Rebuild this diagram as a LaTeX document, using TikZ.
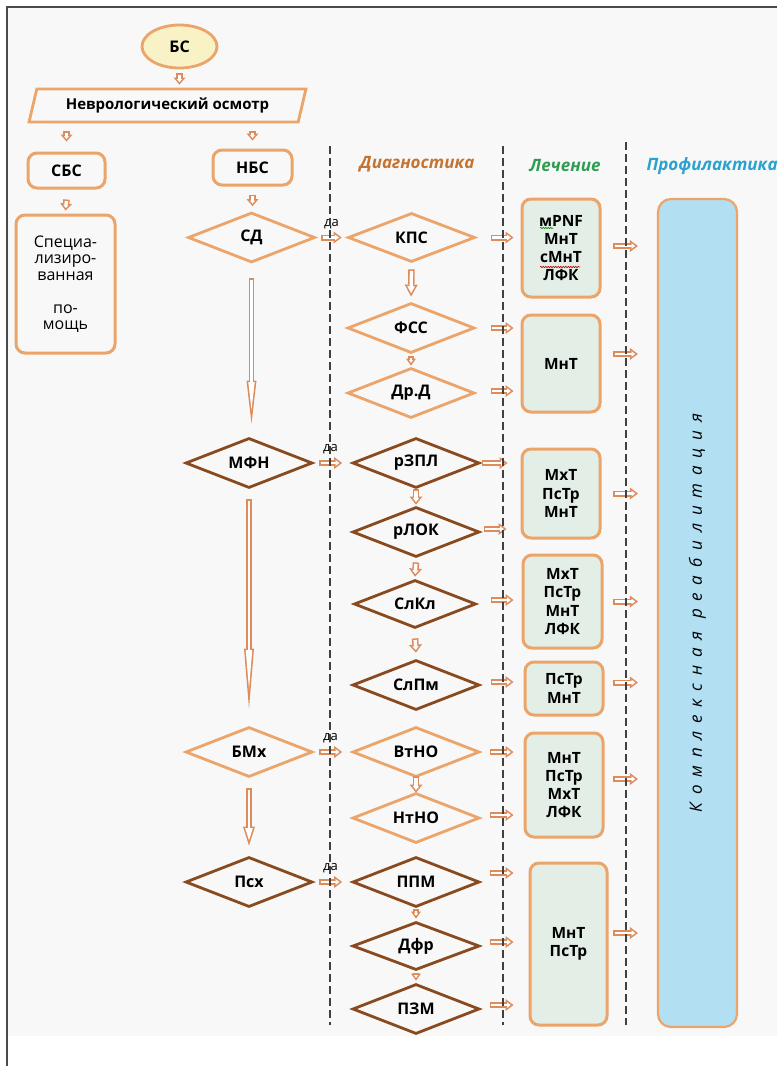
\documentclass[tikz,border=0pt]{standalone}
\usepackage{fontspec}
\setmainfont{Open Sans}
\usetikzlibrary{shapes.geometric,arrows.meta,calc,decorations.pathmorphing}

\definecolor{lor}{HTML}{EBA46A}
\definecolor{dbr}{HTML}{8A4A1F}
\definecolor{arrc}{HTML}{DD8C5C}
\definecolor{bxfill}{HTML}{E3EFE6}
\definecolor{barfill}{HTML}{B2DFF2}
\definecolor{bsfill}{HTML}{F8F2C6}
\definecolor{bgc}{HTML}{F8F8F8}
\definecolor{framec}{HTML}{4A4A4A}
\definecolor{diagc}{HTML}{C47330}
\definecolor{lechc}{HTML}{2F9C52}
\definecolor{profc}{HTML}{2AA2CF}

\def\holb{1.6}
\tikzset{
  dia/.style={diamond, aspect=2.5, draw=lor, line width=2.8pt, minimum width=127pt, minimum height=50pt, inner sep=0pt, font=\fontsize{16}{18}\selectfont\bfseries},
  ddia/.style={dia, draw=dbr},
  rbox/.style={rectangle, rounded corners=9pt, draw=lor, line width=3pt, inner sep=0pt, align=center, font=\fontsize{16}{18}\selectfont\bfseries},
  tbox/.style={rbox, fill=bxfill, font=\fontsize{15.5}{18.3}\selectfont\bfseries},
  % hollow block arrow: head length, head width, shaft width
  hol/.code n args={3}{%
    \pgfmathsetmacro\hols{\holb*sqrt((#1)^2+(#2/2)^2)/(#2/2)}%
    \pgfmathsetmacro\holl{#1-\hols-\holb}%
    \pgfmathsetmacro\holw{#2*\holl/#1}%
    \pgfmathsetmacro\holi{#3-2*\holb}%
    \tikzset{draw=arrc, line width=#3pt, -{Triangle[length=#1pt, width=#2pt, line width=0pt]},
      postaction={draw=white, line width=\holi pt, shorten <=\holb pt, shorten >=\hols pt,
        -{Triangle[length=\holl pt, width=\holw pt, line width=0pt]}}}},
  holv/.style={hol={7}{12}{6.5}},
  holh/.style={hol={8}{12}{6}},
  holt/.style={hol={7}{10}{5.5}},
  sepline/.style={draw=black!75, line width=1.4pt, dash pattern=on 8pt off 4pt},
  head/.style={font=\fontsize{17}{20}\selectfont\bfseries\itshape},
  yes/.style={above=6pt, inner sep=0pt, font=\fontsize{13}{14}\selectfont},
}

\begin{document}
\begin{tikzpicture}[x=1pt,y=-1pt]
\useasboundingbox (0,0) rectangle (777,1066);
\fill[bgc] (7,7) rectangle (777,1036);
\draw[framec, line width=1.3pt] (7,1066) -- (7,7) -- (777,7);

% headings
\node[head, text=diagc] at (417,164) (diag) {Диагностика};
\node[head, text=lechc] at (565,166) (lech) {Лечение};
\node[head, text=profc, anchor=west] at (643,166) (prof) {Профилактика};

% left part
\node[ellipse, draw=lor, line width=2.8pt, fill=bsfill, minimum width=75pt, minimum height=43pt, inner sep=0pt, font=\fontsize{16}{18}\selectfont\bfseries] at (179.5,46.5) (bs) {БС};
\node[trapezium, trapezium left angle=68.5, trapezium right angle=111.5, trapezium stretches=true, draw=lor, line width=2.8pt, minimum width=277pt, minimum height=33pt, inner sep=0pt, font=\fontsize{15}{18}\selectfont\bfseries] at (167.5,105.5) (nevr) {Неврологический осмотр};
\node[rbox, minimum width=77pt, minimum height=35pt] at (66.5,170.5) (sbs) {СБС};
\node[rbox, minimum width=79pt, minimum height=35pt] at (252.5,167.5) (nbs) {НБС};
\node[rbox, minimum width=99pt, minimum height=138pt, font=\fontsize{16}{16.5}\selectfont] at (65.5,284) (spec) {Специа-\\лизиро-\\ванная\\[16.5pt]по-\\мощь};

\node[dia] at (251.5,237.5) (sd) {СД};
\node[ddia] at (249,463) (mfn) {МФН};
\node[dia] at (249,752) (bmx) {БМх};
\node[ddia] at (249,882) (psx) {Псх};

% diagnostics
\node[dia, minimum height=49pt] at (411.5,237.5) (kps) {КПС};
\node[dia] at (411,328) (fss) {ФСС};
\node[dia] at (411,393) (drd) {Др.Д};
\node[ddia] at (416,463) (rzpl) {рЗПЛ};
\node[ddia] at (416,532) (rlok) {рЛОК};
\node[ddia, minimum width=122pt, minimum height=48pt] at (415,604) (slkl) {СлКл};
\node[ddia] at (416,685) (slpm) {СлПм};
\node[dia] at (416,752) (vtno) {ВтНО};
\node[dia] at (416,818) (ntno) {НтНО};
\node[ddia] at (416,882) (ppm) {ППМ};
\node[ddia, minimum height=48pt] at (416,946) (dfr) {Дфр};
\node[ddia] at (416,1009) (pzm) {ПЗМ};

% treatment
\node[tbox, minimum width=78pt, minimum height=98pt] at (561,248) (t1) {мPNF\\МнТ\\сМнТ\\ЛФК};
\node[tbox, minimum width=78pt, minimum height=97pt] at (561,363.5) (t2) {МнТ};
\node[tbox, minimum width=78pt, minimum height=89pt] at (561,493.5) (t3) {МхТ\\ПсТр\\МнТ};
\node[tbox, minimum width=79pt, minimum height=93pt] at (562.5,601.5) (t4) {МхТ\\ПсТр\\МнТ\\ЛФК};
\node[tbox, minimum width=78pt, minimum height=53pt] at (564,688.5) (t5) {ПсТр\\МнТ};
\node[tbox, minimum width=78pt, minimum height=104pt] at (564,785) (t6) {МнТ\\ПсТр\\МхТ\\ЛФК};
\node[tbox, minimum width=77pt, minimum height=162pt] at (568.5,944) (t7) {МнТ\\ПсТр};

% prevention
\node[rbox, rounded corners=13pt, line width=2.2pt, fill=barfill, minimum width=79pt, minimum height=828pt] at (697.5,613) (bar) {\rotatebox{90}{\fontsize{17}{18}\selectfont\mdseries\itshape\addfontfeature{LetterSpace=46}Комплексная реабилитация}};

% arrows, left part
\draw[holv] ($(bs.south)+(0,4)$) -- ($(bs.south |- nevr.north)+(0,-3)$);
\draw[holv] ($(sbs.north |- nevr.south)+(0,8)$) -- ($(sbs.north)+(0,-10)$);
\draw[holv] ($(nbs.north |- nevr.south)+(0,8)$) -- ($(nbs.north)+(0,-8)$);
\draw[holv] ($(sbs.south)+(0,10)$) -- ($(spec.north)+(0,-3)$);
\draw[holv] ($(nbs.south)+(0,8)$) -- ($(nbs.south |- sd.north)+(0,-5)$);
\draw[hol={43}{10}{5.5}] ($(sd.south)+(0,14)$) -- ($(sd.south |- mfn.north)+(0,-13)$);
\draw[hol={60}{10}{5.5}] ($(mfn.south)+(0,10)$) -- ($(bmx.north)+(0,-17)$);
\draw[hol={19}{12}{6}] ($(bmx.south)+(0,10)$) -- ($(psx.north)+(0,-10)$);

% yes
\draw[holh] ($(sd.east)+(5,0)$) -- ($(kps.west)+(-5,0)$) node[midway, yes] {да};
\draw[holh] ($(mfn.east)+(5,0)$) -- ($(rzpl.west)+(-9,0)$) node[midway, yes] {да};
\draw[holh] ($(bmx.east)+(5,0)$) -- ($(vtno.west)+(-9,0)$) node[midway, yes] {да};
\draw[holh] ($(psx.east)+(5,0)$) -- ($(ppm.west)+(-9,0)$) node[midway, yes] {да};

% arrows, diagnostics
\draw[hol={12}{13}{6.5}] ($(kps.south)+(0,6)$) -- ($(fss.north)+(0,-5)$);
\draw[holt] ($(fss.south)+(0,2)$) -- ($(drd.north)+(0,-1)$);
\draw[hol={8}{13}{6.5}] ($(rzpl.south)+(0,0)$) -- ($(rlok.north)+(0,-1)$);
\draw[hol={8}{13}{6.5}] ($(rlok.south)+(0,4)$) -- ($(slkl.north)+(0,-2)$);
\draw[hol={8}{13}{6.5}] ($(slkl.south)+(0,9)$) -- ($(slpm.north)+(0,-6)$);
\draw[hol={8}{13}{6.5}] ($(vtno.south)+(0,-2)$) -- ($(ntno.north)+(0,1)$);
\draw[holt] ($(ppm.south)+(0,1)$) -- ($(dfr.north)+(0,-2)$);
\draw[holt] ($(dfr.south)+(0,2)$) -- ($(pzm.north)+(0,-2)$);

% diagnostics to treatment
\draw[holh] ($(kps.east -| t1.west)+(-30,0)$) -- +(23,0);
\draw[holh] ($(fss.east -| t2.west)+(-30,0)$) -- +(23,0);
\draw[holh] ($(drd.east -| t2.west)+(-30,-2)$) -- +(23,0);
\draw[holh] ($(rzpl.east -| t3.west)+(-39,0)$) -- +(26,0);
\draw[holh] ($(rlok.east -| t3.west)+(-37,-3)$) -- +(23,0);
\draw[holh] ($(slkl.east -| t4.west)+(-31,-4)$) -- +(23,0);
\draw[holh] ($(slpm.east -| t5.west)+(-33,-3)$) -- +(23,0);
\draw[holh] ($(vtno.east -| t6.west)+(-34,0)$) -- +(24,0);
\draw[holh] ($(ntno.east -| t6.west)+(-34,-3)$) -- +(24,0);
\draw[holh] ($(ppm.east -| t7.west)+(-39,-9)$) -- +(24,0);
\draw[holh] ($(dfr.east -| t7.west)+(-39,-4)$) -- +(24,0);
\draw[holh] ($(pzm.east -| t7.west)+(-39,-4)$) -- +(24,0);

% treatment to prevention
\draw[holh] ($(t1.east -| bar.west)+(-44,-2)$) -- +(25,0);
\draw[holh] ($(t2.east -| bar.west)+(-44,-9.5)$) -- +(25,0);
\draw[holh] ($(t3.east -| bar.west)+(-44,0)$) -- +(25,0);
\draw[holh] ($(t4.east -| bar.west)+(-44,0)$) -- +(25,0);
\draw[holh] ($(t5.east -| bar.west)+(-44,-6)$) -- +(25,0);
\draw[holh] ($(t6.east -| bar.west)+(-44,-6)$) -- +(25,0);
\draw[holh] ($(t7.east -| bar.west)+(-44,-11)$) -- +(25,0);

% column separators
\draw[sepline] (330,146) -- (330,1025);
\draw[sepline] (503,146) -- (503,1025);
\draw[sepline] (626,142) -- (626,1025);

% spelling marks
\draw[decorate, decoration={snake, amplitude=0.7pt, segment length=2.5pt}, draw=green!55!black, line width=0.6pt] ($(t1.center)+(-21,-20)$) -- +(13,0);
\draw[decorate, decoration={snake, amplitude=0.7pt, segment length=2.5pt}, draw=red!75!black, line width=0.6pt] ($(t1.center)+(-21,19)$) -- +(40,0);
\end{tikzpicture}
\end{document}
